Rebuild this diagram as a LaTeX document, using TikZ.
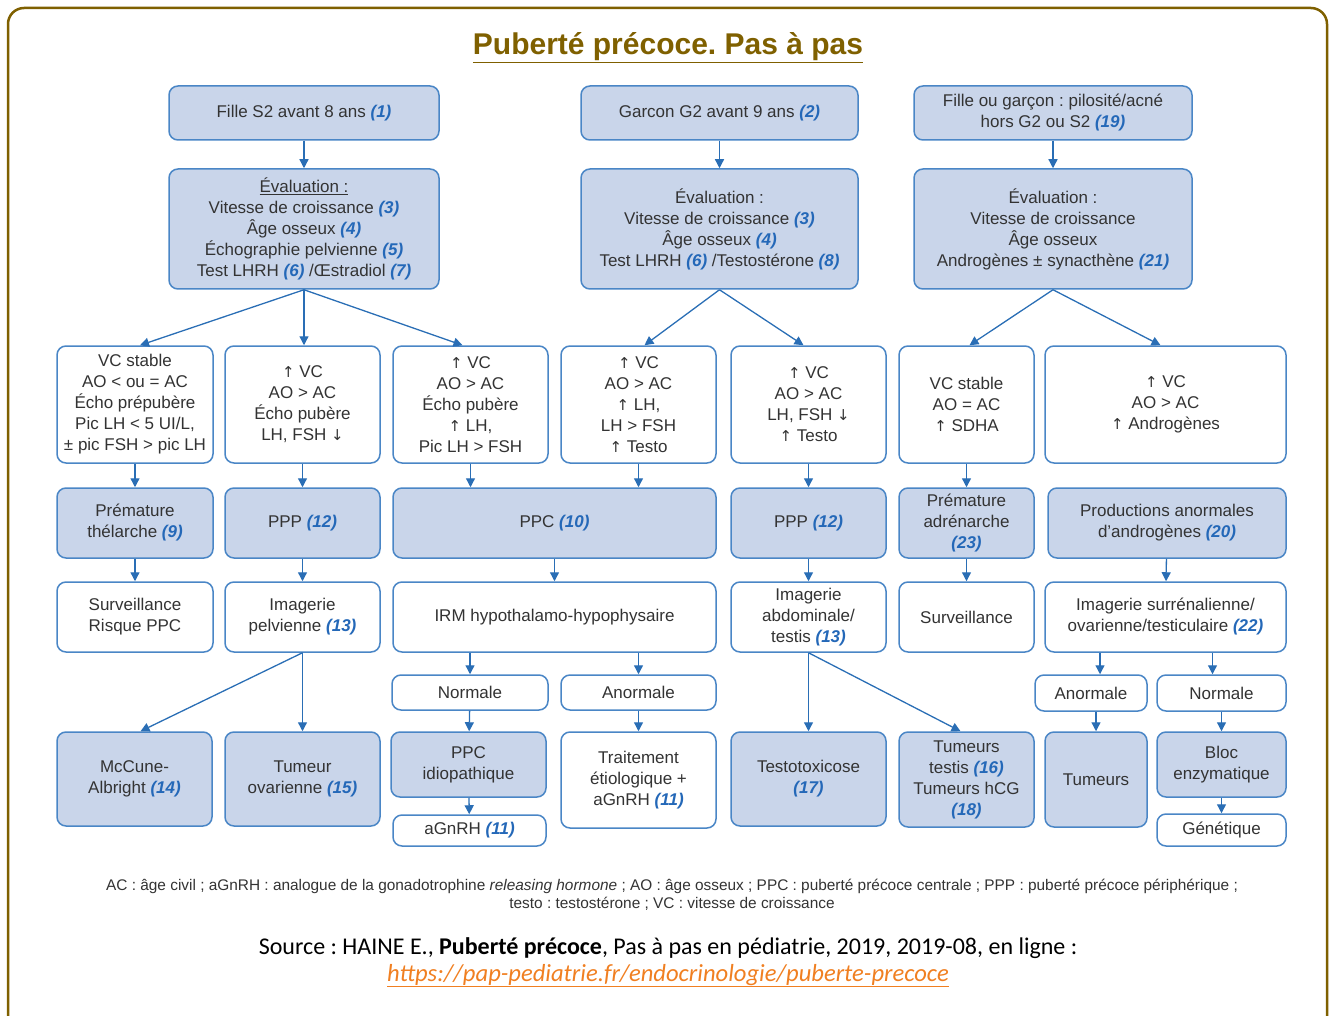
\documentclass[tikz,border=0pt]{standalone}
\usepackage{fontspec}
\setmainfont{Liberation Sans}
\newfontfamily\srcfont{Carlito}
\newfontfamily\symf{DejaVu Sans}
\usetikzlibrary{arrows.meta}
\frenchspacing
\definecolor{bfill}{HTML}{C9D5EA}
\definecolor{bdraw}{HTML}{4A86C6}
\definecolor{arr}{HTML}{2A6EB5}
\definecolor{numc}{HTML}{2468B8}
\definecolor{txt}{HTML}{333333}
\definecolor{olive}{HTML}{7F6000}
\definecolor{linkc}{HTML}{F07F21}
\newcommand\nb[1]{\textcolor{numc}{\bfseries\itshape(#1)}}
\newcommand\up{{\symf\fontsize{15}{21}\selectfont ↑}}
\newcommand\dn{{\symf\fontsize{15}{21}\selectfont ↓}}
\newcommand\bx[7]{\node[#1, minimum width={#5-#3}, minimum height={#6-#4}] (#2) at ({(#3+#5)/2},{(#4+#6)/2}) {#7};}
\begin{document}
\frenchspacing
\begin{tikzpicture}[x=1pt,y=-1pt,
 box/.style={draw=bdraw, line width=1.5pt, rounded corners=9pt, align=center, text=txt, font=\fontsize{17}{21}\selectfont, inner sep=0pt},
 bb/.style={box, fill=bfill},
 wb/.style={box, fill=white},
 ar/.style={draw=arr, line width=1.3pt, -{Triangle[length=9pt,width=9pt]}},
]
\useasboundingbox (0,0) rectangle (1330,1016);
\draw[olive, line width=2.5pt, rounded corners=16pt] (8,8) rectangle (1327,1060);
\node[anchor=base, font=\fontsize{30}{34}\selectfont\bfseries, text=olive] (title) at (668,55) {\underline{Puberté précoce. Pas à pas}};
% row A
\bx{bb}{A1}{169}{86}{439}{140}{Fille S2 avant 8 ans \nb{1}}
\bx{bb}{A2}{581}{86}{858}{140}{Garcon G2 avant 9 ans \nb{2}}
\bx{bb}{A3}{914}{86}{1192}{140}{Fille ou garçon : pilosité/acné\\hors G2 ou S2 \nb{19}}
% row B
\bx{bb}{B1}{169}{169}{439}{289}{\underline{Évaluation :}\\Vitesse de croissance \nb{3}\\Âge osseux \nb{4}\\Échographie pelvienne \nb{5}\\Test LHRH \nb{6} /Œstradiol \nb{7}}
\bx{bb}{B2}{581}{169}{858}{289}{Évaluation :\\Vitesse de croissance \nb{3}\\Âge osseux \nb{4}\\Test LHRH \nb{6} /Testostérone \nb{8}}
\bx{bb}{B3}{914}{169}{1192}{289}{Évaluation :\\Vitesse de croissance\\Âge osseux\\Androgènes ± synacthène \nb{21}}
% row C
\bx{wb}{C1}{57}{346}{213}{463}{VC stable\\AO < ou = AC\\Écho prépubère\\Pic LH < 5 UI/L,\\± pic FSH > pic LH}
\bx{wb}{C2}{225}{346}{380}{463}{\up\ VC\\AO > AC\\Écho pubère\\LH, FSH \dn}
\bx{wb}{C3}{393}{346}{548}{463}{\up\ VC\\AO > AC\\Écho pubère\\\up\ LH,\\Pic LH > FSH}
\bx{wb}{C4}{561}{346}{716}{463}{\up\ VC\\AO > AC\\\up\ LH,\\LH > FSH\\\up\ Testo}
\bx{wb}{C5}{731}{346}{886}{463}{\up\ VC\\AO > AC\\LH, FSH \dn\\\up\ Testo}
\bx{wb}{C6}{899}{346}{1034}{463}{VC stable\\AO = AC\\\up\ SDHA}
\bx{wb}{C7}{1045}{346}{1286}{463}{\up\ VC\\AO > AC\\\up\ Androgènes}
% row D
\bx{bb}{D1}{57}{488}{213}{558}{Prémature\\thélarche \nb{9}}
\bx{bb}{D2}{225}{488}{380}{558}{PPP \nb{12}}
\bx{bb}{D3}{393}{488}{716}{558}{PPC \nb{10}}
\bx{bb}{D4}{731}{488}{886}{558}{PPP \nb{12}}
\bx{bb}{D5}{899}{488}{1034}{558}{Prémature\\adrénarche\\\nb{23}}
\bx{bb}{D6}{1048}{488}{1286}{558}{Productions anormales\\d’androgènes \nb{20}}
% row E
\bx{wb}{E1}{57}{582}{213}{652}{Surveillance\\Risque PPC}
\bx{wb}{E2}{225}{582}{380}{652}{Imagerie\\pelvienne \nb{13}}
\bx{wb}{E3}{393}{582}{716}{652}{IRM hypothalamo-hypophysaire}
\bx{wb}{E4}{731}{582}{886}{652}{Imagerie\\abdominale/\\testis \nb{13}}
\bx{wb}{E5}{899}{582}{1034}{652}{Surveillance}
\bx{wb}{E6}{1045}{582}{1286}{652}{Imagerie surrénalienne/\\ovarienne/testiculaire \nb{22}}
% row F
\bx{wb}{F1}{392}{675}{548}{710}{Normale}
\bx{wb}{F2}{561}{675}{716}{710}{Anormale}
\bx{wb}{F3}{1035}{675}{1147}{711}{Anormale}
\bx{wb}{F4}{1157}{675}{1286}{711}{Normale}
% row G
\bx{bb}{G1}{57}{732}{212}{826}{McCune-\\Albright \nb{14}}
\bx{bb}{G2}{225}{732}{380}{826}{Tumeur\\ovarienne \nb{15}}
\bx{bb}{G3}{391}{732}{546}{797}{PPC\\idiopathique}
\bx{wb}{G4}{561}{732}{716}{828}{Traitement\\étiologique +\\aGnRH \nb{11}}
\bx{bb}{G5}{731}{732}{886}{826}{Testotoxicose\\\nb{17}}
\bx{bb}{G6}{899}{732}{1034}{827}{Tumeurs\\testis \nb{16}\\Tumeurs hCG\\\nb{18}}
\bx{bb}{G7}{1045}{732}{1147}{827}{Tumeurs}
\bx{bb}{G8}{1157}{732}{1286}{797}{Bloc\\enzymatique}
% row H
\bx{wb}{H1}{393}{815}{546}{846}{aGnRH \nb{11}}
\bx{wb}{H2}{1157}{814}{1286}{846}{Génétique}
% arrows
\draw[ar] (A1) -- (B1);
\draw[ar] (A2) -- (B2);
\draw[ar] (A3) -- (B3);
\draw[ar] (B1.south) -- ([xshift=5pt]C1.north);
\draw[ar] (B1.south) -- (B1.south |- C2.north);
\draw[ar] (B1.south) -- ([xshift=-8pt]C3.north);
\draw[ar] (B2.south) -- ([xshift=6pt]C4.north);
\draw[ar] (B2.south) -- ([xshift=-5pt]C5.north);
\draw[ar] (B3.south) -- ([xshift=3pt]C6.north);
\draw[ar] (B3.south) -- ([xshift=-5pt]C7.north);
\draw[ar] (C1) -- (D1);
\draw[ar] (C2) -- (D2);
\draw[ar] (C3) -- (C3.south |- D3.north);
\draw[ar] (C4) -- (C4.south |- D3.north);
\draw[ar] (C5) -- (D4);
\draw[ar] (C6) -- (D5);
\draw[ar] (D1) -- (E1);
\draw[ar] (D2) -- (E2);
\draw[ar] (D3) -- (E3);
\draw[ar] (D4) -- (E4);
\draw[ar] (D5) -- (E5);
\draw[ar] (D6) -- (E6);
\draw[ar] (F1.north |- E3.south) -- (F1.north);
\draw[ar] (F2.north |- E3.south) -- (F2.north);
\draw[ar] ([xshift=9pt]F3.north |- E6.south) -- ([xshift=9pt]F3.north);
\draw[ar] ([xshift=-9pt]F4.north |- E6.south) -- ([xshift=-9pt]F4.north);
\draw[ar] (E2.south) -- ([xshift=6pt]G1.north);
\draw[ar] (E2.south) -- (E2.south |- G2.north);
\draw[ar] (F1) -- (G3);
\draw[ar] (G3) -- (H1);
\draw[ar] (F2) -- (G4);
\draw[ar] (E4.south) -- (E4.south |- G5.north);
\draw[ar] (E4.south) -- ([xshift=-6pt]G6.north);
\draw[ar] (G7.north |- F3.south) -- (G7.north);
\draw[ar] (F4) -- (G8);
\draw[ar] (G8) -- (H2);
% footnote
\node[anchor=base, text=txt, font=\fontsize{15.4}{18}\selectfont] (fn1) at (672,890) {AC : âge civil ; aGnRH : analogue de la gonadotrophine \textit{releasing hormone} ; AO : âge osseux ; PPC : puberté précoce centrale ; PPP : puberté précoce périphérique ;};
\node[anchor=base, text=txt, font=\fontsize{15.4}{18}\selectfont] (fn2) at (672,908) {testo : testostérone ; VC : vitesse de croissance};
% source
\node[anchor=base, font=\srcfont\fontsize{24}{28}\selectfont] (src) at (668,954) {Source : HAINE E., \textbf{Puberté précoce}, Pas à pas en pédiatrie, 2019, 2019-08, en ligne :};
\node[anchor=base, text=linkc, font=\srcfont\itshape\fontsize{24.6}{28}\selectfont] (lnk) at (668,981) {\underline{https://pap-pediatrie.fr/endocrinologie/puberte-precoce}};
\end{tikzpicture}
\end{document}
